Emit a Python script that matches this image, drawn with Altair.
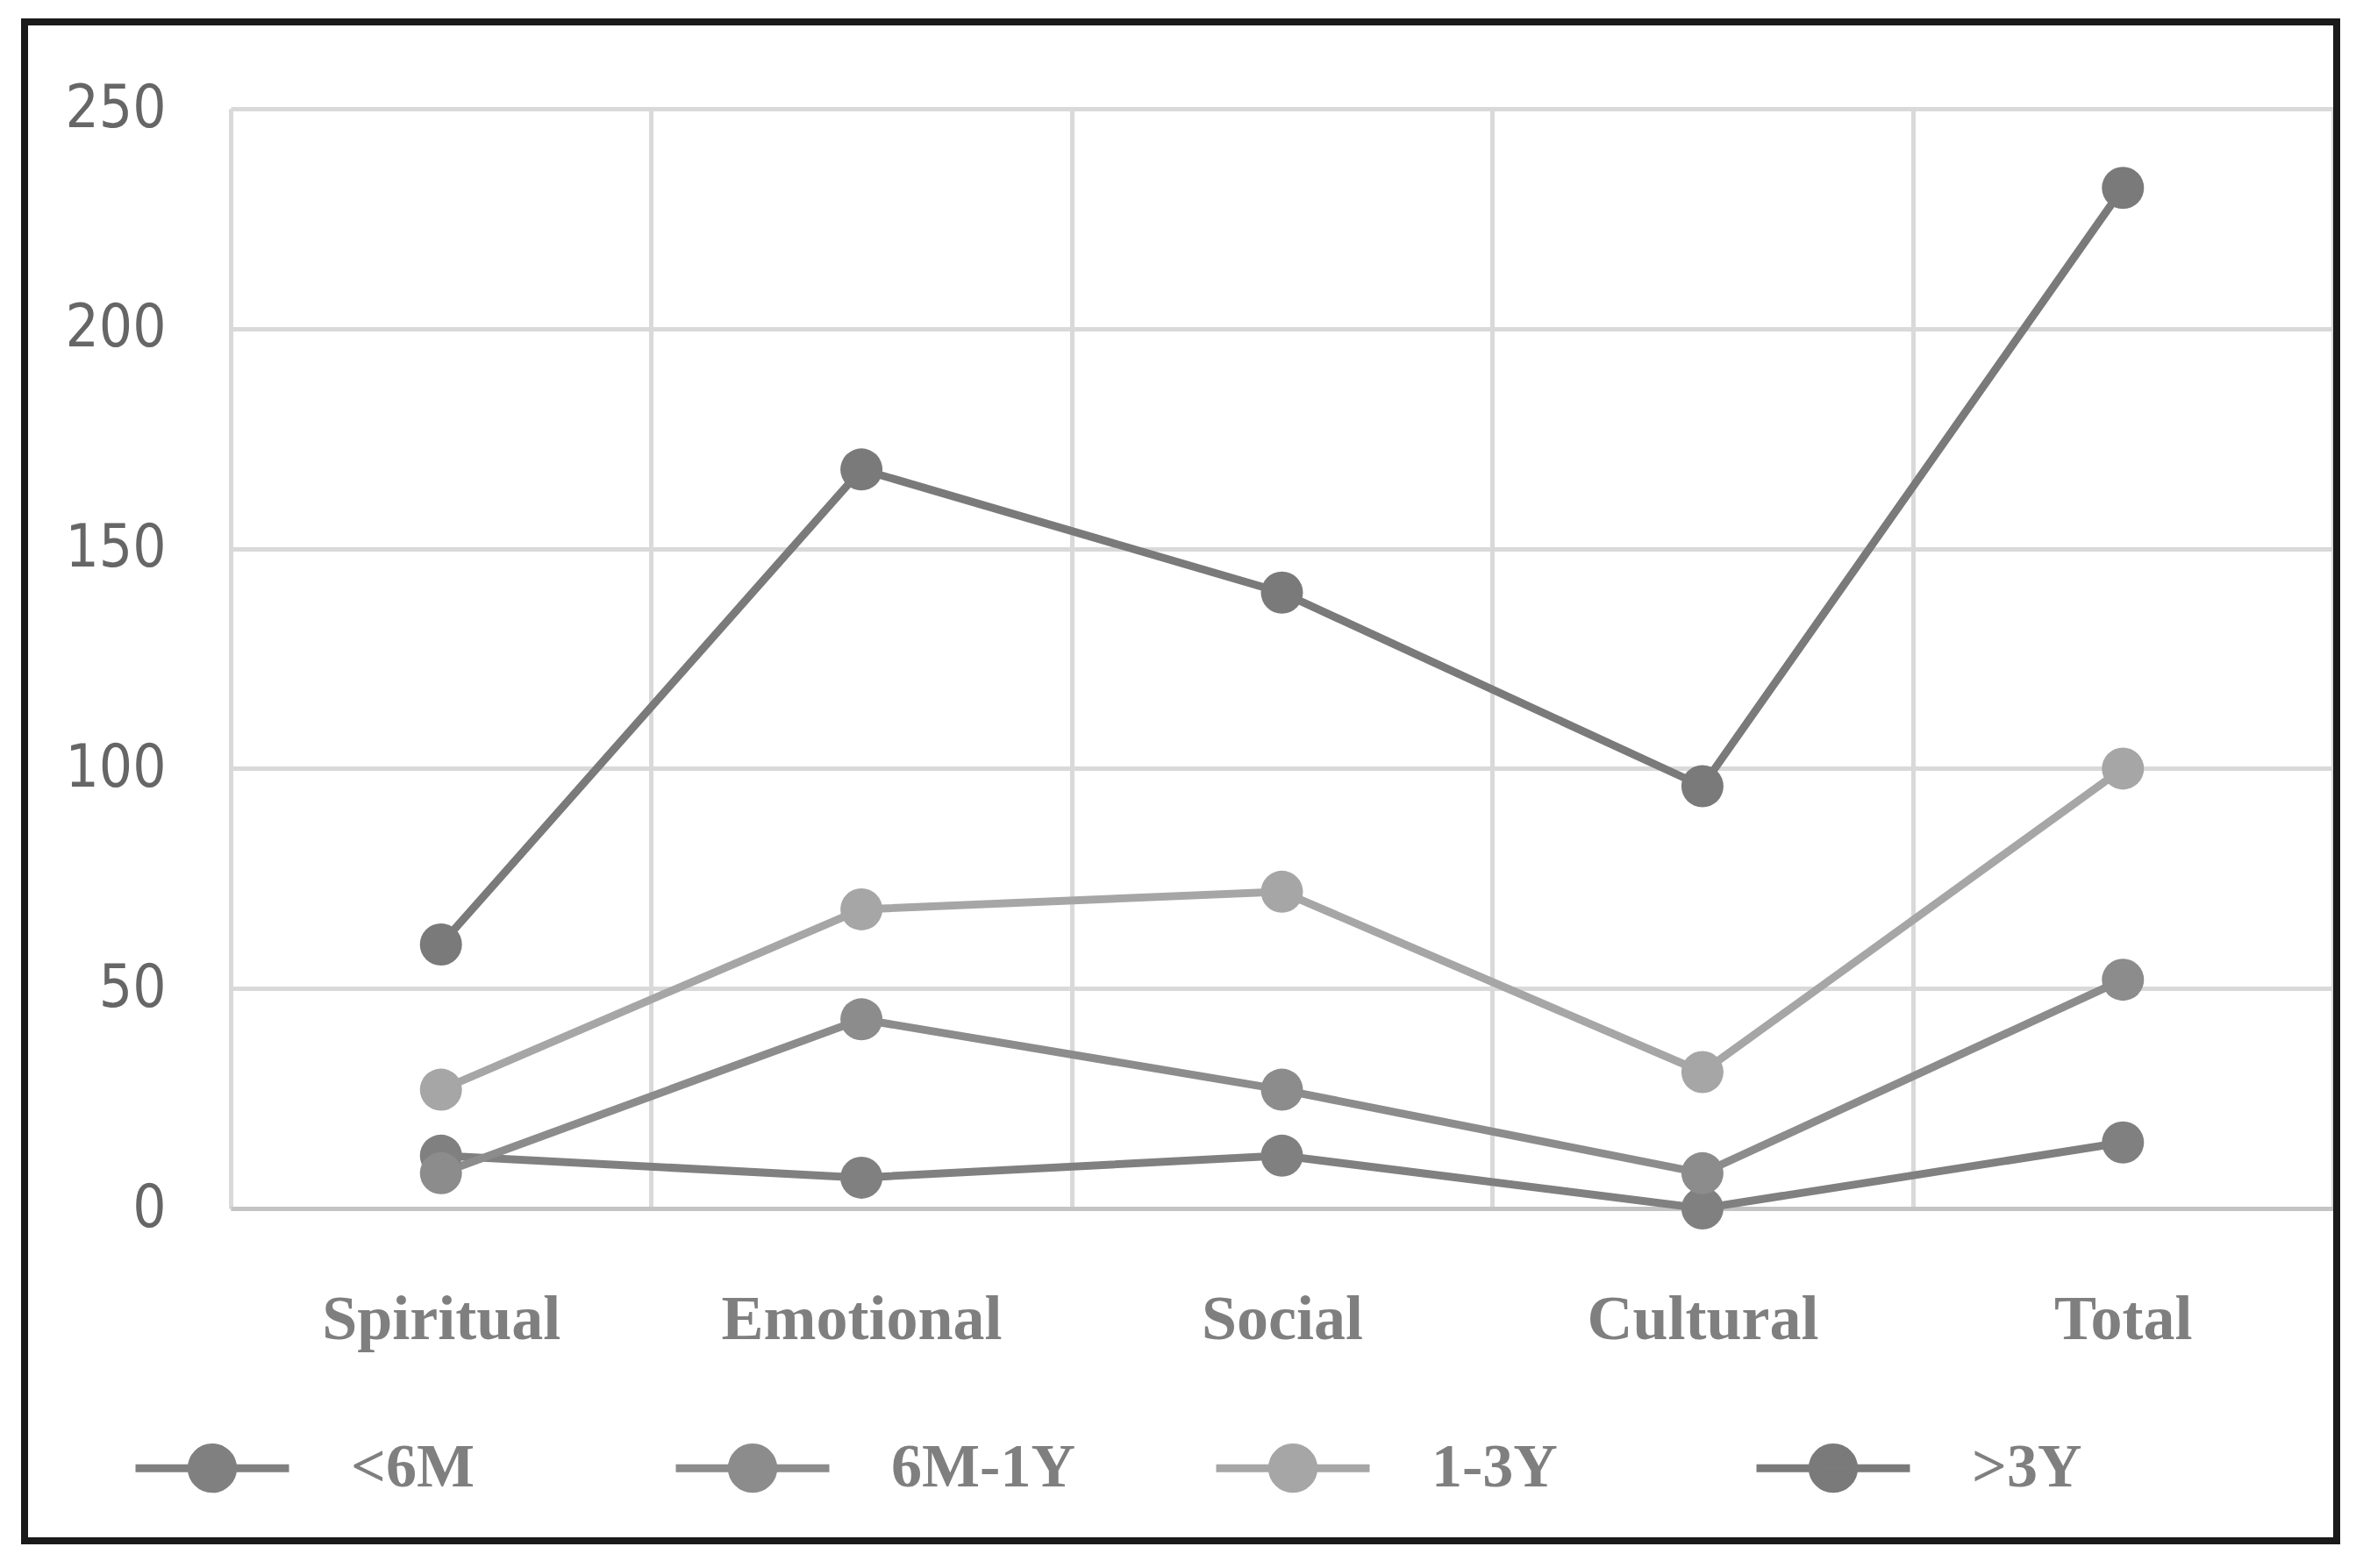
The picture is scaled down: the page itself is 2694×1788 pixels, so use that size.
import altair as alt
import pandas as pd

categories = ["Spiritual", "Emotional", "Social", "Cultural", "Total"]
series = ["<6M", "6M-1Y", "1-3Y", ">3Y"]
v_lt6m = [12, 7, 12, 0, 15]
v_6m1y = [8, 43, 27, 8, 52]
v_1to3y = [27, 68, 72, 31, 100]
v_gt3y = [60, 168, 140, 96, 232]
colors = ["#808080", "#8c8c8c", "#a6a6a6", "#7a7a7a"]
y_ticks = [0, 50, 100, 150, 200, 250]

rows = []
for s, vals in zip(series, [v_lt6m, v_6m1y, v_1to3y, v_gt3y]):
    for c, v in zip(categories, vals):
        rows.append({"category": c, "series": s, "value": v})
df = pd.DataFrame(rows)

W, H = 2397, 1254

grid_col = "#d9d9d9"
sym_path = "M-1,0L1,0M0.27,0A0.27,0.27,0,1,1,-0.27,0A0.27,0.27,0,1,1,0.27,0Z"

legend = alt.Legend(
    title=None, orient="none", legendX=-113, legendY=1458,
    direction="horizontal", columns=4, symbolType=sym_path,
    symbolSize=30625, symbolStrokeWidth=9,
    labelFont="Liberation Serif", labelFontSize=70, labelFontWeight="bold",
    labelColor="#7f7f7f", labelOffset=66, columnPadding=142,
    gridAlign="all", padding=0, labelLimit=600,
)

x_enc = alt.X(
    "category:N", sort=categories,
    scale=alt.Scale(paddingInner=0, paddingOuter=0),
    axis=alt.Axis(
        title=None, tickBand="extent", labelAngle=0, labelLimit=600,
        grid=True, gridColor=grid_col, gridWidth=5, ticks=False,
        domainColor="#c4c4c4", domainWidth=5,
        labelFont="Liberation Serif", labelFontSize=72, labelFontWeight="bold",
        labelColor="#7f7f7f", labelPadding=91,
    ),
)
y_enc = alt.Y(
    "value:Q", scale=alt.Scale(domain=[0, 250], nice=False),
    axis=alt.Axis(
        title=None, values=y_ticks, grid=True, gridColor=grid_col, gridWidth=5,
        domain=False, ticks=False, labelPadding=74,
        labelFont="DejaVu Sans Condensed", labelFontSize=67, labelColor="#666666",
    ),
)
stroke_enc = alt.Stroke("series:N", scale=alt.Scale(domain=series, range=colors), legend=legend)
fill_enc = alt.Fill("series:N", scale=alt.Scale(domain=series, range=colors), legend=legend)

lines = alt.Chart(df).mark_line(strokeWidth=9).encode(x=x_enc, y=y_enc, stroke=stroke_enc)
points = alt.Chart(df).mark_point(filled=True, size=2304, opacity=1).encode(
    x=x_enc, y=y_enc, fill=fill_enc, stroke=stroke_enc, strokeWidth=alt.value(0)
)

frame = alt.Chart(pd.DataFrame({"a": [0]})).mark_rect(
    fillOpacity=0, stroke="#1a1a1a", strokeWidth=8
).encode(x=alt.value(-235), x2=alt.value(2401), y=alt.value(-99), y2=alt.value(1633))

chart = alt.layer(lines, points, frame).properties(
    width=W, height=H,
    autosize=alt.AutoSizeParams(type="none"),
    padding={"left": 255, "top": 116, "right": 20, "bottom": 390},
).configure_view(stroke=grid_col, strokeWidth=5).configure(background="white")

chart.save("out.html", embed_options={"renderer": "svg", "actions": False})
